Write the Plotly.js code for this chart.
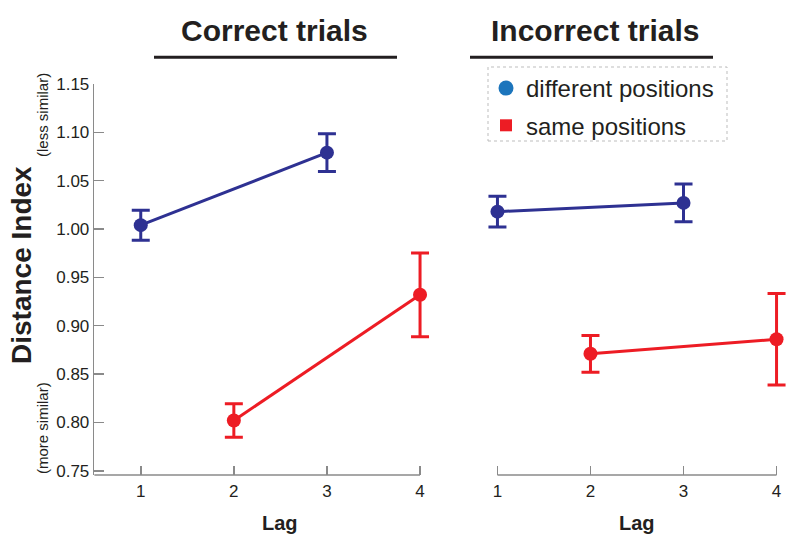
<!DOCTYPE html>
<html>
<head>
<meta charset="utf-8">
<script src="https://cdn.plot.ly/plotly-3.0.1.min.js"></script>
<style>html,body{margin:0;padding:0;background:#fff}#chart{width:800px;height:547px}</style>
</head>
<body>
<div id="chart"></div>
<script>
// ---- data ----
const lagTicks = [1, 2, 3, 4];
const lagTickLabels = ['1', '2', '3', '4'];

const correctDiffLag = [1, 3];
const correctDiffMean = [1.004, 1.079];
const correctDiffErr = [0.0155, 0.0195];

const correctSameLag = [2, 4];
const correctSameMean = [0.802, 0.932];
const correctSameErr = [0.0173, 0.0433];

const incorrectDiffLag = [1, 3];
const incorrectDiffMean = [1.018, 1.027];
const incorrectDiffErr = [0.016, 0.0195];

const incorrectSameLag = [2, 4];
const incorrectSameMean = [0.871, 0.886];
const incorrectSameErr = [0.019, 0.0474];

const seriesNames = ['different positions', 'same positions'];
const panelTitles = ['Correct trials', 'Incorrect trials'];

// ---- styles ----
const BLUE = '#2e3192', RED = '#ed1c24', LEG_BLUE = '#1c75bc';
const TXT = '#231f20', AX = '#8a8a8a';
const FONT = 'Liberation Sans, Arial, sans-serif';

function series(x, y, err, color, xa) {
  return {
    type: 'scatter', mode: 'lines+markers', x: x, y: y,
    xaxis: xa, yaxis: 'y',
    line: {color: color, width: 3},
    marker: {color: color, size: 14, symbol: 'circle'},
    error_y: {type: 'data', array: err, visible: true, color: color, thickness: 3, width: 9},
    cliponaxis: false, showlegend: false, hoverinfo: 'x+y'
  };
}

const data = [
  series(correctDiffLag, correctDiffMean, correctDiffErr, BLUE, 'x'),
  series(correctSameLag, correctSameMean, correctSameErr, RED, 'x'),
  series(incorrectDiffLag, incorrectDiffMean, incorrectDiffErr, BLUE, 'x2'),
  series(incorrectSameLag, incorrectSameMean, incorrectSameErr, RED, 'x2'),
  {type: 'scatter', mode: 'markers', x: [null], y: [null], name: seriesNames[0],
   marker: {color: LEG_BLUE, size: 15, symbol: 'circle'}, legendgroup: 'a', showlegend: true},
  {type: 'scatter', mode: 'markers', x: [null], y: [null], name: seriesNames[1],
   marker: {color: RED, size: 12, symbol: 'square'}, legendgroup: 'b', showlegend: true}
];

const plotTop = 84, plotBot = 475, plotH = plotBot - plotTop;
const py = p => (plotBot - p) / plotH;   // pixel -> paper y
const px = p => p / 800;                 // pixel -> paper x

const xCommon = {
  tickmode: 'array', tickvals: lagTicks, ticktext: lagTickLabels,
  ticks: 'inside', ticklen: 9, tickwidth: 1.5, tickcolor: AX,
  showline: false, ticklabelstandoff: 4,
  showgrid: false, zeroline: false,
  tickfont: {family: FONT, size: 17, color: TXT},
  fixedrange: true
};

const layout = {
  width: 800, height: 547,
  margin: {l: 0, r: 0, t: plotTop, b: 547 - plotBot},
  paper_bgcolor: '#fff', plot_bgcolor: 'rgba(0,0,0,0)',
  font: {family: FONT, color: TXT},
  showlegend: true,
  legend: {
    x: px(486), y: py(66), xanchor: 'left', yanchor: 'top',
    font: {family: FONT, size: 24, color: TXT},
    bgcolor: 'rgba(0,0,0,0)', borderwidth: 0,
    tracegroupgap: 3, itemsizing: 'trace'
  },
  xaxis: Object.assign({}, xCommon, {domain: [px(94.2), px(434.0)], range: [0.5, 4.15], anchor: 'y'}),
  xaxis2: Object.assign({}, xCommon, {domain: [px(483.5), px(790.5)], range: [0.85, 4.15], anchor: 'y'}),
  yaxis: {
    domain: [0, 1], range: [0.7456, 1.15], anchor: 'x',
    tickmode: 'linear', tick0: 0.75, dtick: 0.05, tickformat: '.2f',
    ticks: 'inside', ticklen: 10, tickwidth: 1.5, tickcolor: AX,
    showline: true, linecolor: AX, linewidth: 1.5,
    showgrid: false, zeroline: false,
    tickfont: {family: FONT, size: 17, color: TXT},
    fixedrange: true
  },
  annotations: [
    {text: '<b>' + panelTitles[0] + '</b>', xref: 'paper', yref: 'paper', x: px(274), y: py(30.5),
     xanchor: 'center', yanchor: 'middle', showarrow: false, font: {family: FONT, size: 30, color: TXT}},
    {text: '<b>' + panelTitles[1] + '</b>', xref: 'paper', yref: 'paper', x: px(594.5), y: py(30.5),
     xanchor: 'center', yanchor: 'middle', showarrow: false, font: {family: FONT, size: 30, color: TXT}},
    {text: '<b>Lag</b>', xref: 'x', yref: 'paper', x: 2.5, y: py(523),
     xanchor: 'center', yanchor: 'middle', showarrow: false, font: {family: FONT, size: 20, color: TXT}},
    {text: '<b>Lag</b>', xref: 'x2', yref: 'paper', x: 2.5, y: py(523),
     xanchor: 'center', yanchor: 'middle', showarrow: false, font: {family: FONT, size: 20, color: TXT}},
    {text: '<b>Distance Index</b>', xref: 'paper', yref: 'paper', x: px(21), y: py(265),
     xanchor: 'center', yanchor: 'middle', textangle: -90, showarrow: false,
     font: {family: FONT, size: 28, color: TXT}},
    {text: '(less similar)', xref: 'paper', yref: 'paper', x: px(42), y: py(115),
     xanchor: 'center', yanchor: 'middle', textangle: -90, showarrow: false,
     font: {family: FONT, size: 15, color: TXT}},
    {text: '(more similar)', xref: 'paper', yref: 'paper', x: px(42), y: py(428),
     xanchor: 'center', yanchor: 'middle', textangle: -90, showarrow: false,
     font: {family: FONT, size: 15, color: TXT}}
  ],
  shapes: [
    // x axis lines spanning only their tick range
    {type: 'line', xref: 'x', yref: 'y domain', x0: 0.5, x1: 4, y0: 0, y1: 0,
     line: {color: AX, width: 1.5}},
    {type: 'line', xref: 'x2', yref: 'y domain', x0: 1, x1: 4, y0: 0, y1: 0,
     line: {color: AX, width: 1.5}},
    // title underlines
    {type: 'line', xref: 'paper', yref: 'paper', x0: px(154), x1: px(397), y0: py(57.3), y1: py(57.3),
     line: {color: TXT, width: 3}},
    {type: 'line', xref: 'paper', yref: 'paper', x0: px(470), x1: px(713), y0: py(57.3), y1: py(57.3),
     line: {color: TXT, width: 3}},
    // legend frame
    {type: 'rect', xref: 'paper', yref: 'paper', x0: px(488), x1: px(727), y0: py(141), y1: py(67),
     line: {color: '#bdbdbd', width: 1, dash: 'dot'}, fillcolor: 'rgba(0,0,0,0)'}
  ]
};

Plotly.newPlot('chart', data, layout, {displayModeBar: false, staticPlot: true});
</script>
</body>
</html>
